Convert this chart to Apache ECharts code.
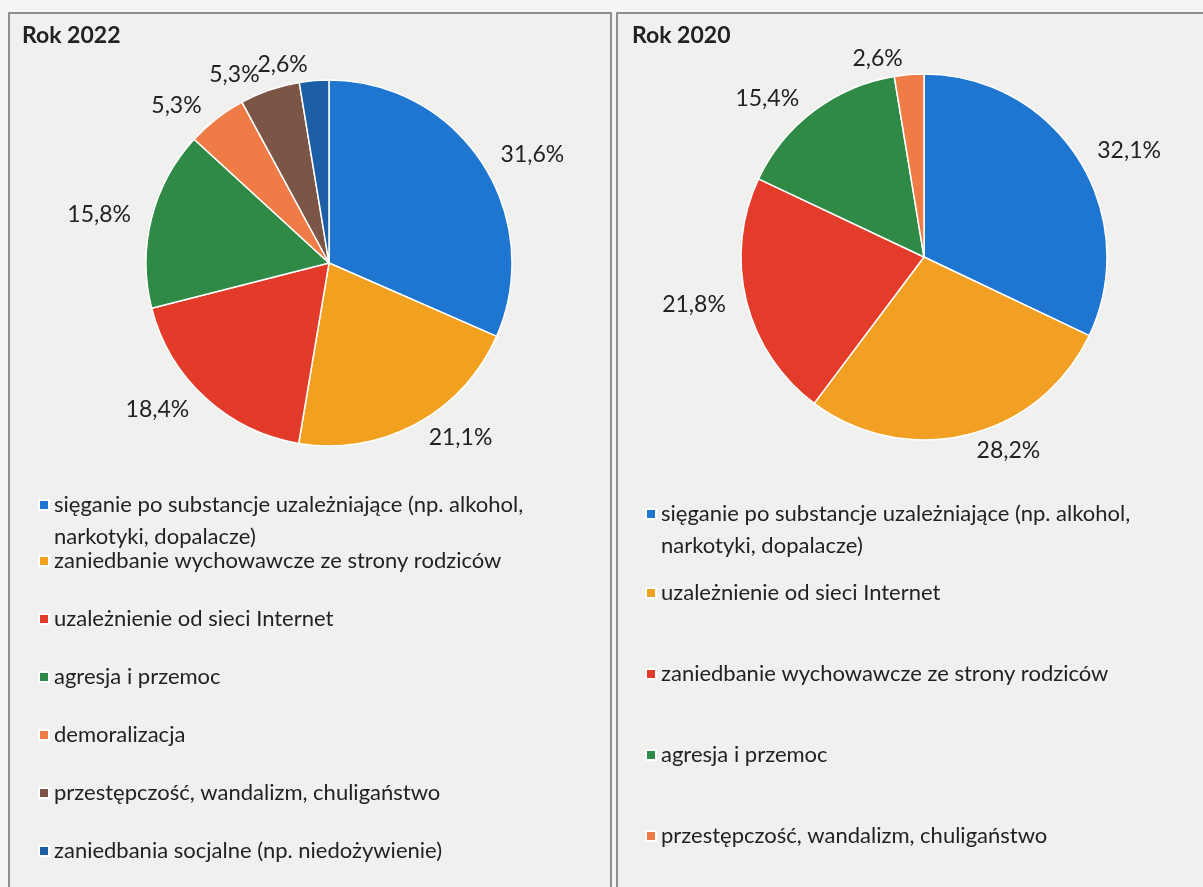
<!DOCTYPE html>
<html>
<head>
<meta charset="utf-8">
<script src="https://cdn.jsdelivr.net/npm/echarts@6/dist/echarts.min.js"></script>
<style>
  html, body { margin: 0; padding: 0; background: #f5f5f4; }
  #chart { width: 1203px; height: 887px; }
</style>
</head>
<body>
<div id="chart"></div>
<script>
const font = 'Lato, "Noto Sans", sans-serif'

const cats2022 = [
  'sięganie po substancje uzależniające (np. alkohol, narkotyki, dopalacze)',
  'zaniedbanie wychowawcze ze strony rodziców',
  'uzależnienie od sieci Internet',
  'agresja i przemoc',
  'demoralizacja',
  'przestępczość, wandalizm, chuligaństwo',
  'zaniedbania socjalne (np. niedożywienie)'
]
const vals2022 = [31.6, 21.1, 18.4, 15.8, 5.3, 5.3, 2.6]
const colors2022 = ['#1f76d0', '#f1a11f', '#e23b2a', '#2e8a45', '#ef7c47', '#7b5647', '#1d5fa6']

const cats2020 = [
  'sięganie po substancje uzależniające (np. alkohol, narkotyki, dopalacze)',
  'uzależnienie od sieci Internet',
  'zaniedbanie wychowawcze ze strony rodziców',
  'agresja i przemoc',
  'przestępczość, wandalizm, chuligaństwo'
]
const vals2020 = [32.1, 28.2, 21.8, 15.4, 2.6]
const colors2020 = ['#1f76d0', '#f2a023', '#e33c2b', '#2e8a45', '#ef7c47']

const pct = (p) => p.value.toFixed(1).replace('.', ',') + '%'

function pieSeries(name, cats, vals, colors, center) {
  return {
    name,
    type: 'pie',
    center,
    radius: 183,
    startAngle: 90,
    clockwise: true,
    avoidLabelOverlap: false,
    animation: false,
    itemStyle: { borderColor: '#ffffff', borderWidth: 1.5 },
    label: {
      show: true, position: 'outside', formatter: pct,
      color: '#222', fontSize: 23, fontFamily: font
    },
    labelLine: { show: false, length: 16, length2: 0 },
    labelLayout: { hideOverlap: false },
    emphasis: { scale: false },
    data: cats.map((c, i) => ({ name: c, value: vals[i], itemStyle: { color: colors[i] } }))
  }
}

function legendItems(cats, colors, from, to) {
  return cats.slice(from, to).map((c, i) => ({ name: c, itemStyle: { color: colors[from + i] } }))
}

const legendText = { color: '#222', fontSize: 22, fontFamily: font, lineHeight: 32 }
// blank first line keeps the icon level with the first text line of a wrapped entry
const wrapFirst = (name) => '\u200b\n' + name

const chart = echarts.init(document.getElementById('chart'))
chart.setOption({
  backgroundColor: '#f5f5f4',
  graphic: [
    { type: 'rect', z: -10, shape: { x: 9, y: 13, width: 602, height: 900 },
      style: { fill: '#f0f0ef', stroke: '#6e6e6e', lineWidth: 1.5 } },
    { type: 'rect', z: -10, shape: { x: 617, y: 13, width: 600, height: 900 },
      style: { fill: '#f0f0ef', stroke: '#6e6e6e', lineWidth: 1.5 } }
  ],
  title: [
    { text: 'Rok 2022', left: 17, top: 19, textStyle: { fontSize: 23, fontWeight: 'bold', color: '#222', fontFamily: font } },
    { text: 'Rok 2020', left: 627, top: 19, textStyle: { fontSize: 23, fontWeight: 'bold', color: '#222', fontFamily: font } }
  ],
  legend: [
    { left: 33, top: 452, orient: 'vertical', icon: 'rect', itemWidth: 10, itemHeight: 10, itemGap: 0,
      selectedMode: false, data: legendItems(cats2022, colors2022, 0, 1), formatter: wrapFirst,
      textStyle: Object.assign({ width: 560, overflow: 'break' }, legendText) },
    { left: 33, top: 540, orient: 'vertical', icon: 'rect', itemWidth: 10, itemHeight: 10, itemGap: 26,
      selectedMode: false, data: legendItems(cats2022, colors2022, 1, 7), textStyle: legendText },
    { left: 640, top: 461, orient: 'vertical', icon: 'rect', itemWidth: 10, itemHeight: 10, itemGap: 0,
      selectedMode: false, data: legendItems(cats2020, colors2020, 0, 1), formatter: wrapFirst,
      textStyle: Object.assign({ width: 548, overflow: 'break' }, legendText) },
    { left: 640, top: 572, orient: 'vertical', icon: 'rect', itemWidth: 10, itemHeight: 10, itemGap: 49,
      selectedMode: false, data: legendItems(cats2020, colors2020, 1, 5), textStyle: legendText }
  ],
  series: [
    pieSeries('Rok 2022', cats2022, vals2022, colors2022, [329, 263]),
    pieSeries('Rok 2020', cats2020, vals2020, colors2020, [924, 257])
  ]
})
</script>
</body>
</html>
